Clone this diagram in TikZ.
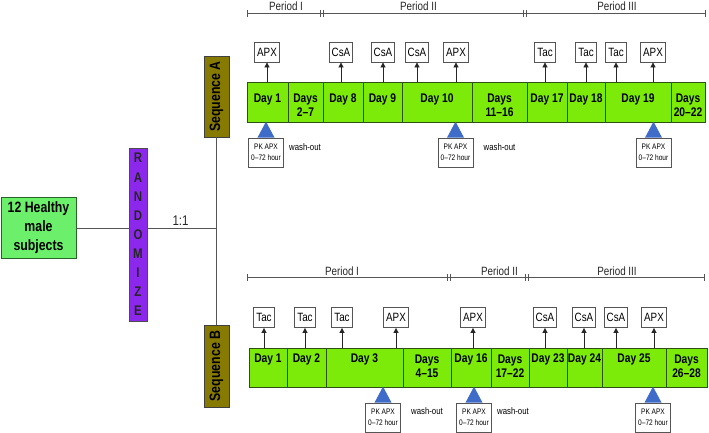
\documentclass[tikz,border=0pt]{standalone}
\usepackage{fontspec}
\setmainfont{Liberation Sans}[FakeStretch=0.82]
\usetikzlibrary{arrows.meta}
\definecolor{subjgreen}{RGB}{108,240,108}
\definecolor{subjborder}{RGB}{40,100,40}
\definecolor{barg}{RGB}{125,235,10}
\definecolor{barborder}{RGB}{45,80,20}
\definecolor{randpurple}{RGB}{140,40,235}
\definecolor{seqolive}{RGB}{135,122,0}
\definecolor{pkblue}{RGB}{62,108,200}
\definecolor{linegray}{RGB}{85,85,85}
\begin{document}
\begin{tikzpicture}[x=1pt,y=-1pt,
  conn/.style={draw=linegray, line width=0.9pt},
  period/.style={draw=linegray, line width=0.9pt},
  ptxt/.style={font=\fontsize{12}{14}\selectfont, anchor=base, inner sep=0pt, text=black!85},
  daycell/.style={draw=barborder, fill=barg, line width=0.8pt},
  daytxt/.style={font=\fontsize{12.5}{14}\selectfont\bfseries, align=center, inner sep=0pt, anchor=base},
  drug/.style={draw=linegray, fill=white, line width=0.8pt, font=\fontsize{12}{14}\selectfont, inner xsep=2.5pt, inner ysep=0pt, minimum height=20pt},
  arr/.style={-{Triangle[length=5pt,width=5pt]}, draw=black!85, line width=0.8pt},
  pkbox/.style={draw=linegray, fill=white, line width=0.8pt, font=\fontsize{8}{11}\selectfont, align=center, minimum width=35pt, minimum height=29pt, inner sep=0.5pt},
  wash/.style={font=\fontsize{9.5}{11}\selectfont, inner sep=0pt},
  seqbox/.style={draw=black!75, fill=seqolive, line width=0.8pt, font=\fontsize{15}{17}\selectfont\bfseries, rotate=90, minimum height=25pt, inner sep=0pt},
  subjbox/.style={draw=subjborder, fill=subjgreen, line width=0.9pt, font=\fontsize{15}{19}\selectfont\bfseries, align=center, minimum width=75pt, minimum height=61pt, inner sep=0pt},
  randbox/.style={draw=black!70, fill=randpurple, line width=0.8pt, font=\fontsize{14}{19.1}\selectfont\bfseries, align=center, minimum width=18pt, minimum height=173pt, inner sep=0pt, text=black!85}
]
\useasboundingbox (0,0) rectangle (709,432);

% ---------- left part ----------
\node[subjbox] (subj) at (38.5,227.5) {12 Healthy\\male\\subjects};
\node[randbox] (rand) at (138,234.5) {R\\A\\N\\D\\O\\M\\I\\Z\\E};
\node[seqbox, minimum width=81pt] (seqA) at (216.5,96.5) {Sequence A};
\node[seqbox, minimum width=82pt] (seqB) at (216.5,366) {Sequence B};
\coordinate (junc) at (216.5,228.5);
\draw[conn] (subj.east |- junc) -- (rand.west |- junc);
\draw[conn] (rand.east |- junc) -- (junc);
\draw[conn] (seqA.west) -- (seqB.east);
\node[font=\fontsize{14}{16}\selectfont, inner sep=0pt, text=black!85] (ratio) at (180.5,221) {1:1};

% ---------- Sequence A ----------
\coordinate (pA0) at (247,13);
\coordinate (pA1) at (322,13);
\coordinate (pA2) at (525,13);
\coordinate (pA3) at (705,13);
\draw[period] (pA0) -- (pA3);
\foreach \c in {pA0,pA3}{\draw[period] ([yshift=-3.5pt]\c) -- ([yshift=3.5pt]\c);}
\foreach \c in {pA1,pA2}{
  \draw[period] ([xshift=-1.5pt,yshift=-3.5pt]\c) -- ([xshift=-1.5pt,yshift=3.5pt]\c);
  \draw[period] ([xshift=1.5pt,yshift=-3.5pt]\c) -- ([xshift=1.5pt,yshift=3.5pt]\c);}
\node[ptxt] (perA1) at (286,10) {Period I};
\node[ptxt] (perA2) at (418.5,10) {Period II};
\node[ptxt] (perA3) at (617,10) {Period III};

\foreach \x/\xx/\b/\t [count=\i] in {247/288/102.6/{Day 1},288/323/116.6/{Days\\2–7},323/363/102.6/{Day 8},363/402/102.6/{Day 9},402/472/102.6/{Day 10},472/527/116.6/{Days\\11–16},527/567/102.6/{Day 17},567/605/102.6/{Day 18},605/671/102.6/{Day 19},671/705/116.6/{Days\\20–22}}{
  \draw[daycell] (\x,82) rectangle (\xx,122);
  \node[daytxt] (cA\i) at ({(\x+\xx)/2},\b) {\t};
}
\foreach \x/\t [count=\i] in {267/APX,341/CsA,383/CsA,417/CsA,456/APX,545/Tac,586/Tac,616/Tac,653/APX}{
  \node[drug] (dA\i) at (\x,52) {\t};
  \draw[arr] (\x,82) -- (dA\i.south);
}
\foreach \x [count=\i] in {266,455.5,653.5}{
  \node[pkbox] (pkA\i) at (\x,152.5) {PK APX\\0–72 hour};
  \fill[pkblue] ([xshift=-8.5pt]pkA\i.north) -- ++(8.5,-16) -- ++(8.5,16) -- cycle;
}
\node[wash] (wA1) at (305,147) {wash-out};
\node[wash] (wA2) at (499.5,147) {wash-out};

% ---------- Sequence B ----------
\coordinate (pB0) at (247,277);
\coordinate (pB1) at (449,277);
\coordinate (pB2) at (527,277);
\coordinate (pB3) at (704,277);
\draw[period] (pB0) -- (pB3);
\foreach \c in {pB0,pB3}{\draw[period] ([yshift=-3.5pt]\c) -- ([yshift=3.5pt]\c);}
\foreach \c in {pB1,pB2}{
  \draw[period] ([xshift=-1.5pt,yshift=-3.5pt]\c) -- ([xshift=-1.5pt,yshift=3.5pt]\c);
  \draw[period] ([xshift=1.5pt,yshift=-3.5pt]\c) -- ([xshift=1.5pt,yshift=3.5pt]\c);}
\node[ptxt] (perB1) at (342,275) {Period I};
\node[ptxt] (perB2) at (499.5,275) {Period II};
\node[ptxt] (perB3) at (617,275) {Period III};

\foreach \x/\xx/\b/\t [count=\i] in {249/287/362.6/{Day 1},287/326/362.6/{Day 2},326/403/362.6/{Day 3},403/451/377.6/{Days\\4–15},451/491/362.6/{Day 16},491/529/377.6/{Days\\17–22},529/567/362.6/{Day 23},567/602/362.6/{Day 24},602/666/362.6/{Day 25},666/707/377.6/{Days\\26–28}}{
  \draw[daycell] (\x,348) rectangle (\xx,387);
  \node[daytxt] (cB\i) at ({(\x+\xx)/2},\b) {\t};
}
\foreach \x/\t [count=\i] in {264/Tac,305/Tac,342/Tac,396/APX,473/APX,545/CsA,584/CsA,616/CsA,654/APX}{
  \node[drug] (dB\i) at (\x,317.5) {\t};
  \draw[arr] (\x,348) -- (dB\i.south);
}
\foreach \x [count=\i] in {383,474,653}{
  \node[pkbox] (pkB\i) at (\x,417.5) {PK APX\\0–72 hour};
  \fill[pkblue] ([xshift=-8.5pt]pkB\i.north) -- ++(8.5,-16) -- ++(8.5,16) -- cycle;
}
\node[wash] (wB1) at (427,411) {wash-out};
\node[wash] (wB2) at (513,411) {wash-out};
\end{tikzpicture}
\end{document}
